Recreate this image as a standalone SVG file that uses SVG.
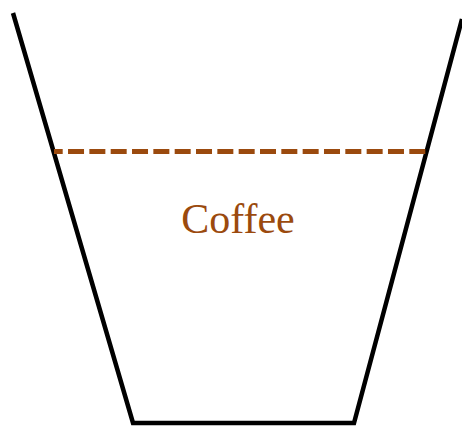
<svg xmlns="http://www.w3.org/2000/svg" width="462" height="427" viewBox="0 0 462 427">
<style>
.cup{fill:none;stroke:#000;stroke-width:4.5;stroke-linejoin:miter}
.level{stroke:#9b4a0e;stroke-width:5;stroke-dasharray:16 5.33;stroke-dashoffset:7.3}
.label{font-family:"Liberation Serif","Times New Roman",serif;font-size:42px;fill:#9b4a0e;text-anchor:middle}
</style>
<rect width="462" height="427" fill="#fff"/>
<g id="cup">
<polyline class="cup" points="13,13 133,423 354,423 462,19"/>
</g>
<g id="coffee-level">
<line class="level" x1="54" y1="151.5" x2="426" y2="151.5"/>
</g>
<g id="label">
<text class="label" x="238" y="233">Coffee</text>
</g>
</svg>
